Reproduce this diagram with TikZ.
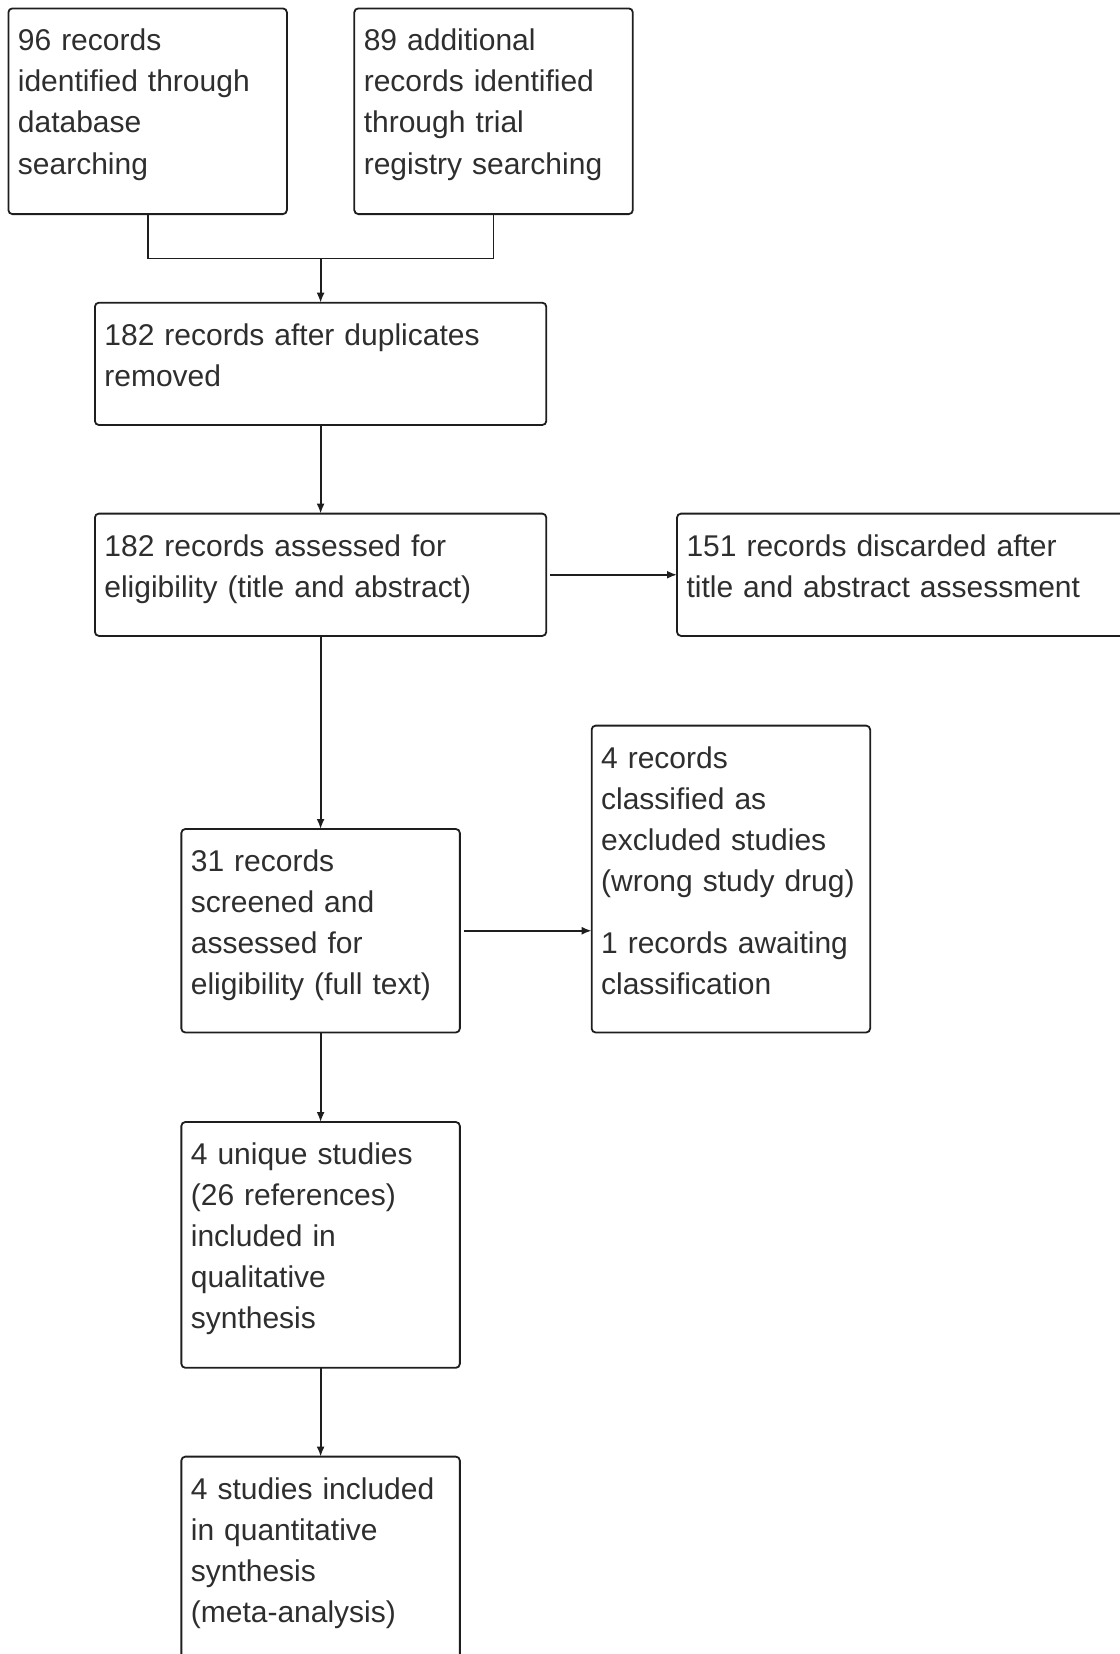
\documentclass[tikz,border=0pt]{standalone}
\usepackage{fontspec}
\setmainfont{Liberation Sans}
\usepackage{xcolor}
\usepackage{tikz}
\usetikzlibrary{arrows.meta,positioning,calc}
\definecolor{LineGray}{HTML}{1E1E1E}
\definecolor{TextGray}{HTML}{2E2E2E}

\begin{document}
\begin{tikzpicture}[
  font=\fontsize{15}{20.55}\selectfont,
  box/.style={draw=LineGray,line width=0.9pt,rounded corners=2pt,text=TextGray,align=left,outer sep=0pt,
    inner xsep=4.75pt,inner ysep=10.2pt,text height=11pt},
  narrow/.style={box,text width=129.75pt},
  wide/.style={box,text width=216.2pt},
  arr/.style={-{Latex[length=5pt,width=4pt]},line width=0.9pt,draw=LineGray},
  link/.style={line width=0.9pt,draw=LineGray}
]
\useasboundingbox (0,0) rectangle (559.5pt,-827pt);
\node[narrow,text depth=71.45pt,anchor=north west] (db) at (4.2pt,-4.2pt) {96 records\\identified through\\database\\searching};
\node[narrow,text depth=71.45pt,right=33.7pt of db] (reg) {89 additional\\records identified\\through trial\\registry searching};
\coordinate (mid) at ($(db.south)!0.5!(reg.south)$);
\coordinate[below=22.15pt of mid] (join);
\node[wide,text depth=29.75pt,below=22.15pt of join] (dup) {182 records after duplicates\\removed};
\node[wide,text depth=29.75pt,below=44.3pt of dup] (title) {182 records assessed for\\eligibility (title and abstract)};
\node[wide,text depth=29.75pt,right=65.35pt of title] (discard) {151 records discarded after\\title and abstract assessment};
\node[narrow,text depth=70.35pt,below=96.55pt of title] (full) {31 records\\screened and\\assessed for\\eligibility (full text)};
\node[narrow,text depth=122.05pt,right=65.9pt of full.south east,anchor=south west] (excl) {4 records\\classified as\\excluded studies\\(wrong study drug)\\[10.5pt]1 records awaiting\\classification};
\node[narrow,text depth=91.5pt,below=44.75pt of full] (qual) {4 unique studies\\(26 references)\\included in\\qualitative\\synthesis};
\node[narrow,text depth=91.5pt,below=44.4pt of qual] (quant) {4 studies included\\in quantitative\\synthesis\\(meta-analysis)};
\draw[link] (db.south) |- (join) -| (reg.south);
\draw[arr] (join) -- (dup);
\draw[arr] (dup) -- (title);
\draw[arr,shorten <=2pt] (title) -- (discard);
\draw[arr] (title) -- (full);
\draw[arr,shorten <=2pt] (full.east) -- (full.east -| excl.west);
\draw[arr] (full) -- (qual);
\draw[arr] (qual) -- (quant);
\end{tikzpicture}
\end{document}
